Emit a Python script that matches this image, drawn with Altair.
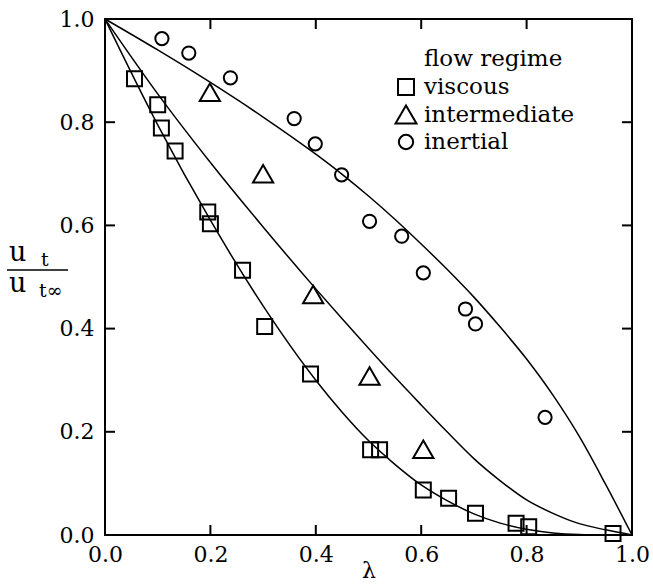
import altair as alt
import pandas as pd

# Measured velocity ratios u_t / u_t∞ against diameter ratio λ
viscous_lam = [0.056, 0.100, 0.107, 0.133, 0.195, 0.200, 0.261, 0.303, 0.390,
               0.504, 0.521, 0.604, 0.652, 0.703, 0.780, 0.804, 0.964]
viscous_u = [0.884, 0.834, 0.789, 0.744, 0.626, 0.603, 0.513, 0.404, 0.312,
             0.165, 0.165, 0.087, 0.071, 0.042, 0.023, 0.016, 0.003]

intermediate_lam = [0.199, 0.300, 0.395, 0.502, 0.604]
intermediate_u = [0.858, 0.700, 0.466, 0.308, 0.166]

inertial_lam = [0.108, 0.159, 0.238, 0.359, 0.399, 0.449, 0.502, 0.563,
                0.604, 0.684, 0.703, 0.835]
inertial_u = [0.962, 0.934, 0.886, 0.807, 0.758, 0.698, 0.608, 0.579,
              0.508, 0.438, 0.409, 0.228]

# Wall-effect correlation curves for each regime
curve_lam = [0.0, 0.1, 0.2, 0.3, 0.4, 0.45, 0.5, 0.55, 0.6, 0.65, 0.7, 0.75,
             0.8, 0.85, 0.9, 0.95, 1.0]
viscous_curve = [1.0, 0.795, 0.610, 0.444, 0.300, 0.238, 0.183, 0.137, 0.097,
                 0.066, 0.041, 0.023, 0.011, 0.004, 0.001, 0.0002, 0.0]
intermediate_curve = [1.0, 0.855, 0.722, 0.597, 0.477, 0.419, 0.362, 0.306, 0.252,
                      0.199, 0.148, 0.105, 0.068, 0.042, 0.022, 0.010, 0.0]
inertial_curve = [1.0, 0.940, 0.877, 0.810, 0.738, 0.699, 0.657, 0.612, 0.564,
                  0.514, 0.461, 0.403, 0.341, 0.271, 0.191, 0.098, 0.0]

regimes = ["viscous", "intermediate", "inertial"]
tick_labels = [0.0, 0.2, 0.4, 0.6, 0.8, 1.0]
inner_ticks = [0.2, 0.4, 0.6, 0.8]

W, H = 527, 516
FONT = "DejaVu Serif"

# Marker appearance per regime
SHAPES = {"viscous": "square", "intermediate": "triangle-up", "inertial": "circle"}
SIZES = {"viscous": 225, "intermediate": 410, "inertial": 175}

points = {
    "viscous": pd.DataFrame({"lam": viscous_lam, "u": viscous_u}),
    "intermediate": pd.DataFrame({"lam": intermediate_lam, "u": intermediate_u}),
    "inertial": pd.DataFrame({"lam": inertial_lam, "u": inertial_u}),
}

curves = pd.concat([
    pd.DataFrame({"lam": curve_lam, "u": viscous_curve, "regime": "viscous"}),
    pd.DataFrame({"lam": curve_lam, "u": intermediate_curve, "regime": "intermediate"}),
    pd.DataFrame({"lam": curve_lam, "u": inertial_curve, "regime": "inertial"}),
], ignore_index=True)

xs = alt.Scale(domain=[0, 1], nice=False, zero=False)
ys = alt.Scale(domain=[0, 1], nice=False, zero=False)

x_axis = alt.Axis(values=tick_labels, format=".1f", ticks=False, domain=False, grid=False,
                  labelFont=FONT, labelFontSize=22, labelColor="black", labelPadding=9,
                  labelFlush=False, labelOverlap=False, title="λ", titleFont=FONT,
                  titleFontSize=22, titleFontWeight="normal", titleColor="black",
                  titleY=25, titleBaseline="top")
y_axis = alt.Axis(values=tick_labels, format=".1f", ticks=False, domain=False, grid=False,
                  labelFont=FONT, labelFontSize=22, labelColor="black", labelPadding=11,
                  labelFlush=False, labelOverlap=False, title=None)


def X(field):
    return alt.X(field, type="quantitative", scale=xs, axis=x_axis)


def Y(field):
    return alt.Y(field, type="quantitative", scale=ys, axis=y_axis)


lines = alt.Chart(curves).mark_line(color="black", strokeWidth=1.5,
                                    interpolate="monotone").encode(
    x=X("lam"), y=Y("u"), detail="regime:N", order="lam:Q")

marker_layers = [
    alt.Chart(points[name]).mark_point(
        shape=SHAPES[name], size=SIZES[name], filled=False, color="black",
        strokeWidth=2, opacity=1).encode(x=X("lam"), y=Y("u"))
    for name in regimes
]

# Inward tick marks on all four sides of the frame
ticks_df = pd.DataFrame({"lam": inner_ticks, "u": inner_ticks})
tick_style = dict(color="black", strokeWidth=2)
left_ticks = alt.Chart(ticks_df).mark_rule(**tick_style).encode(
    y=Y("u"), x=alt.value(0), x2=alt.value(10))
right_ticks = alt.Chart(ticks_df).mark_rule(**tick_style).encode(
    y=Y("u"), x=alt.value(W - 10), x2=alt.value(W))
bottom_ticks = alt.Chart(ticks_df).mark_rule(**tick_style).encode(
    x=X("lam"), y=alt.value(H - 10), y2=alt.value(H))
top_ticks = alt.Chart(ticks_df).mark_rule(**tick_style).encode(
    x=X("lam"), y=alt.value(0), y2=alt.value(10))

# Legend drawn inside the plot area
legend_layers = [
    alt.Chart(pd.DataFrame({"t": ["flow regime"]})).mark_text(
        font=FONT, fontSize=23, align="left", baseline="middle", color="black").encode(
        text="t:N", x=alt.value(319), y=alt.value(40))
]
for i, name in enumerate(regimes):
    row_y = 68 + i * 27.5
    df = pd.DataFrame({"regime": [name]})
    legend_layers.append(
        alt.Chart(df).mark_point(shape=SHAPES[name], size=SIZES[name] + 30, filled=False,
                                 color="black", strokeWidth=2, opacity=1).encode(
            x=alt.value(301), y=alt.value(row_y)))
    legend_layers.append(
        alt.Chart(df).mark_text(font=FONT, fontSize=23, align="left", baseline="middle",
                                color="black").encode(
            text="regime:N", x=alt.value(319), y=alt.value(row_y)))

# Vertical axis label as a stacked fraction u_t / u_t∞
frac = [
    alt.Chart(pd.DataFrame({"t": ["u"]})).mark_text(
        font=FONT, fontSize=27, align="left", baseline="alphabetic", color="black").encode(
        text="t:N", x=alt.value(-96), y=alt.value(242)),
    alt.Chart(pd.DataFrame({"t": ["t"]})).mark_text(
        font=FONT, fontSize=19, align="left", baseline="alphabetic", color="black").encode(
        text="t:N", x=alt.value(-64), y=alt.value(247)),
    alt.Chart(pd.DataFrame({"t": ["u"]})).mark_text(
        font=FONT, fontSize=27, align="left", baseline="alphabetic", color="black").encode(
        text="t:N", x=alt.value(-96), y=alt.value(273)),
    alt.Chart(pd.DataFrame({"t": ["t∞"]})).mark_text(
        font=FONT, fontSize=19, align="left", baseline="alphabetic", color="black").encode(
        text="t:N", x=alt.value(-66), y=alt.value(278)),
    alt.Chart(pd.DataFrame({"t": ["bar"]})).mark_rule(color="black", strokeWidth=1.5).encode(
        x=alt.value(-98), x2=alt.value(-37), y=alt.value(251)),
]

chart = alt.layer(
    lines, *marker_layers, left_ticks, right_ticks, bottom_ticks, top_ticks,
    *legend_layers, *frac
).properties(
    width=W, height=H,
    autosize=alt.AutoSizeParams(type="none"),
    padding={"left": 105, "top": 19, "right": 21, "bottom": 49},
    background="white",
).configure_view(stroke="black", strokeWidth=2)

chart.save("out.html", embed_options={"renderer": "svg", "actions": False})
